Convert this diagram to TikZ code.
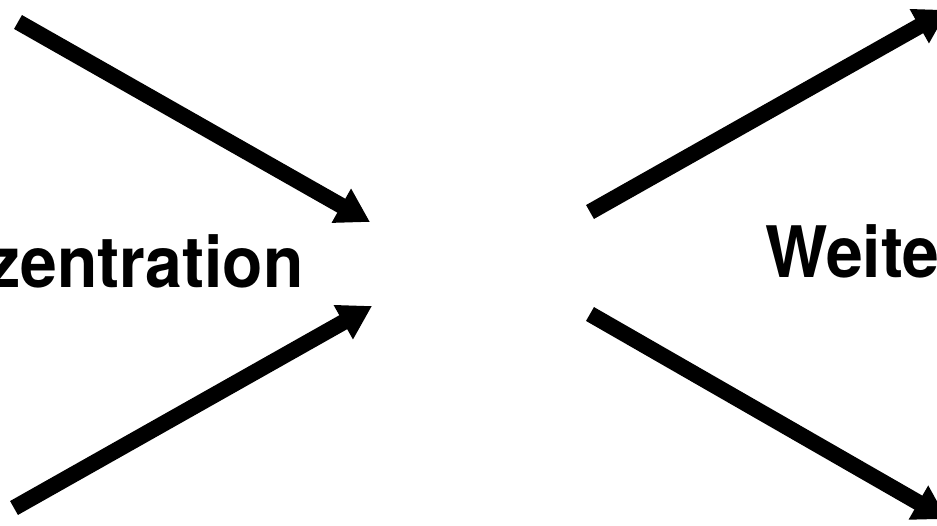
\documentclass[tikz,border=0pt]{standalone}
\usepackage{fontspec}
\setmainfont{TeX Gyre Heros}
\usetikzlibrary{arrows.meta}
\begin{document}
\begin{tikzpicture}[x=1pt, y=-1pt, line width=16pt]
  \useasboundingbox (0,0) rectangle (937,526);
  \coordinate (K1) at (18,22);  \coordinate (M1) at (370,222);
  \coordinate (K2) at (14,508); \coordinate (M2) at (372,306);
  \coordinate (W1) at (590,212); \coordinate (E1) at (948,10);
  \coordinate (W2) at (590,314); \coordinate (E2) at (947,519);
  \draw[-{Triangle[length=33pt,width=37pt]}] (K1) -- (M1);
  \draw[-{Triangle[length=33pt,width=37pt]}] (K2) -- (M2);
  \draw[-{Triangle[length=33pt,width=37pt]}] (W1) -- (E1);
  \draw[-{Triangle[length=33pt,width=37pt]}] (W2) -- (E2);
  \node[font=\fontsize{71}{85}\selectfont\bfseries, inner sep=0pt, anchor=base east, xscale=0.93, transform shape] (konz) at (311,288) {zentration};
  \node[font=\fontsize{71}{85}\selectfont\bfseries, inner sep=0pt, anchor=base west, xscale=0.93, transform shape] (weite) at (758,278) {Weite};
\end{tikzpicture}
\end{document}
